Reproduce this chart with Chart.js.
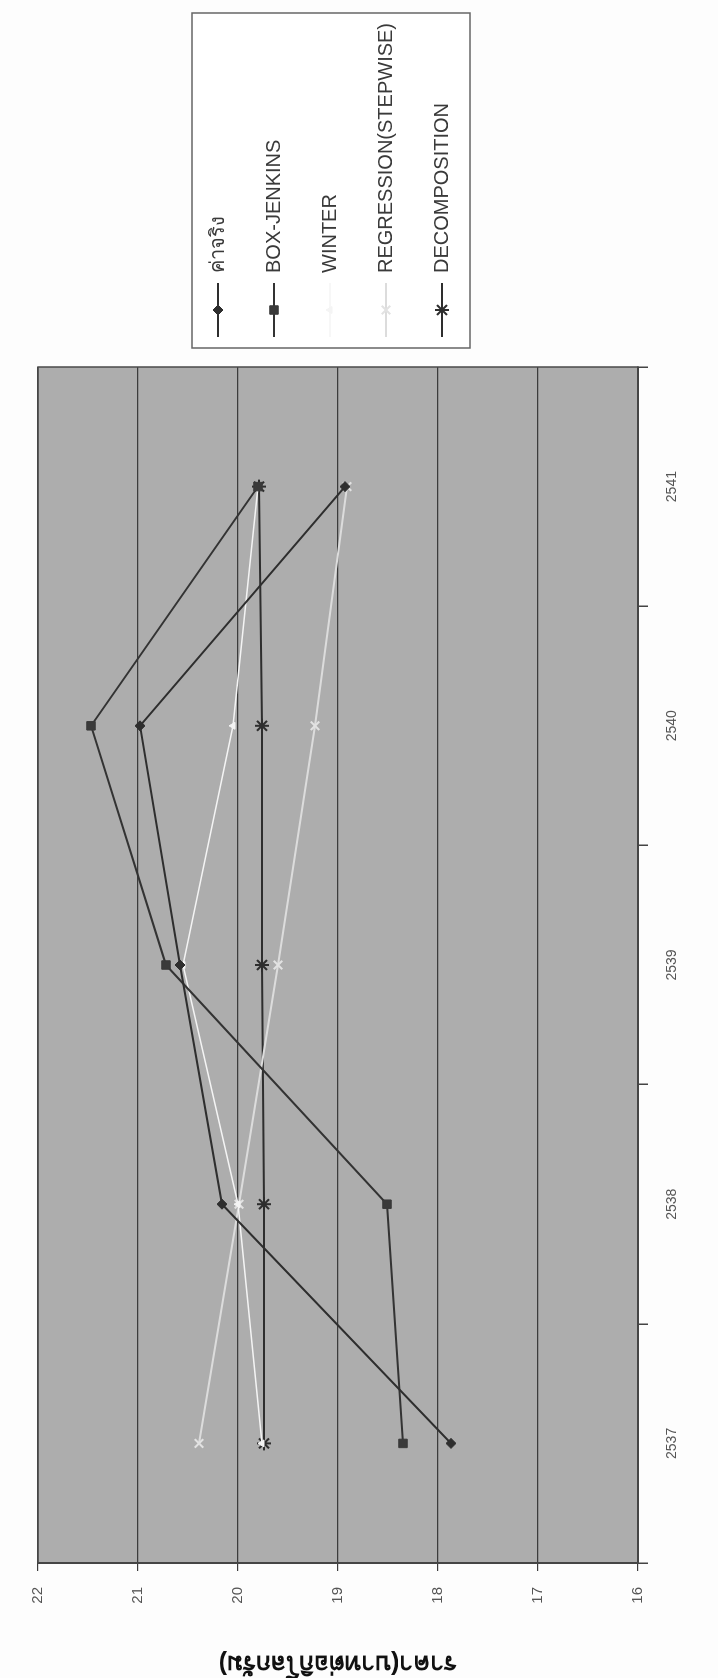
<!DOCTYPE html>
<html>
<head>
<meta charset="utf-8">
<script src="https://cdn.jsdelivr.net/npm/chart.js@4/dist/chart.umd.min.js"></script>
<style>
  html, body { margin: 0; padding: 0; background: #fdfdfd; width: 718px; height: 1678px; overflow: hidden; }
  #wrap {
    position: absolute; left: 0; top: 0;
    width: 1678px; height: 718px;
    transform-origin: 0 0;
    transform: translate(0px, 1678px) rotate(-90deg);
  }
</style>
</head>
<body>
<div id="wrap"><canvas id="chart" width="1678" height="718"></canvas></div>
<script>
// Data
const years = ['2537', '2538', '2539', '2540', '2541'];
const actual = [17.87, 20.16, 20.58, 20.98, 18.93];
const boxJenkins = [18.35, 18.51, 20.72, 21.47, 19.80];
const winter = [19.76, 20.00, 20.55, 20.05, 19.80];
const regression = [20.39, 19.99, 19.60, 19.23, 18.91];
const decomposition = [19.74, 19.74, 19.76, 19.76, 19.79];
const seriesNames = ['ค่าจริง', 'BOX-JENKINS', 'WINTER', 'REGRESSION(STEPWISE)', 'DECOMPOSITION'];
const yTitle = 'ราคา(บาทต่อกิโลกรัม)';

const FONT = "'Liberation Sans', Arial, 'Noto Sans', sans-serif";
const dark = '#2e2e2e';

// Plot background + frame
const plotBg = {
    id: 'plotBg',
    beforeDraw(chart) {
        const { ctx, chartArea: a } = chart;
        ctx.save();
        ctx.fillStyle = '#adadad';
        ctx.fillRect(a.left, a.top, a.right - a.left, a.bottom - a.top);
        ctx.restore();
    },
    afterDraw(chart) {
        const { ctx, chartArea: a } = chart;
        ctx.save();
        ctx.strokeStyle = '#4a4a4a';
        ctx.lineWidth = 1.5;
        ctx.strokeRect(a.left, a.top, a.right - a.left, a.bottom - a.top);
        ctx.restore();
    }
};

// Legend with line + marker, framed
const boxLegend = {
    id: 'boxLegend',
    afterDraw(chart) {
        const { ctx, chartArea: a } = chart;
        const midY = (a.top + a.bottom) / 2;
        const left = a.right + 19, width = 335, height = 278;
        const top = midY - height / 2 - 7;
        ctx.save();
        ctx.fillStyle = '#ffffff';
        ctx.fillRect(left, top, width, height);
        ctx.strokeStyle = '#666';
        ctx.lineWidth = 1.5;
        ctx.strokeRect(left, top, width, height);
        chart.data.datasets.forEach((ds, i) => {
            const y = top + 26 + i * 56;
            ctx.strokeStyle = ds.borderColor;
            ctx.lineWidth = ds.borderWidth;
            ctx.beginPath();
            ctx.moveTo(left + 11, y);
            ctx.lineTo(left + 65, y);
            ctx.stroke();
            ctx.fillStyle = ds.pointBackgroundColor;
            ctx.strokeStyle = ds.pointBorderColor;
            ctx.lineWidth = ds.pointBorderWidth;
            Chart.helpers.drawPoint(ctx, {
                pointStyle: ds.pointStyle, rotation: 0,
                radius: ds.pointRadius, borderWidth: ds.pointBorderWidth
            }, left + 38, y);
            ctx.fillStyle = '#3a3a3a';
            ctx.font = '20px ' + FONT;
            ctx.textAlign = 'left';
            ctx.textBaseline = 'middle';
            ctx.fillText(ds.label, left + 75, y);
        });
        ctx.restore();
    }
};

const mk = (label, data, line, point, style, radius, pbw) => ({
    label, data,
    borderColor: line, borderWidth: 2,
    pointStyle: style, pointRadius: radius,
    pointBackgroundColor: point, pointBorderColor: point, pointBorderWidth: pbw,
    tension: 0, fill: false
});

new Chart(document.getElementById('chart'), {
    type: 'line',
    data: {
        labels: years,
        datasets: [
            mk(seriesNames[0], actual, dark, dark, 'rectRot', 5, 1),
            mk(seriesNames[1], boxJenkins, '#333333', '#3a3a3a', 'rect', 6, 1),
            Object.assign(mk(seriesNames[2], winter, '#f4f4f4', '#f4f4f4', 'triangle', 4, 1), { borderWidth: 1.5 }),
            mk(seriesNames[3], regression, '#dcdcdc', '#e2e2e2', 'crossRot', 6, 2),
            mk(seriesNames[4], decomposition, dark, dark, 'star', 7, 2)
        ]
    },
    options: {
        responsive: false,
        animation: false,
        layout: { padding: { top: 38, right: 367, left: 0, bottom: 0 } },
        plugins: { legend: { display: false }, tooltip: { enabled: false } },
        scales: {
            x: {
                offset: true,
                grid: { offset: true, drawOnChartArea: false, drawTicks: true, tickLength: 10, color: '#444', lineWidth: 1.5 },
                border: { display: true, color: '#3a3a3a', width: 2 },
                ticks: { color: '#555', font: { family: FONT, size: 14 }, padding: 16 },
                afterFit(scale) { scale.height = 80; }
            },
            y: {
                min: 16, max: 22,
                ticks: { stepSize: 1, color: '#555', font: { family: FONT, size: 15 }, padding: 16 },
                grid: { color: '#3c3c3c', lineWidth: 1.2, tickLength: 8 },
                border: { display: true, color: '#3a3a3a', width: 2 },
                title: {
                    display: true, text: yTitle, color: '#111',
                    font: { family: FONT, size: 25, weight: 'bold' },
                    padding: { top: 0, bottom: 0 }
                },
                afterFit(scale) { scale.width = 115; }
            }
        }
    },
    plugins: [plotBg, boxLegend]
});
</script>
</body>
</html>
